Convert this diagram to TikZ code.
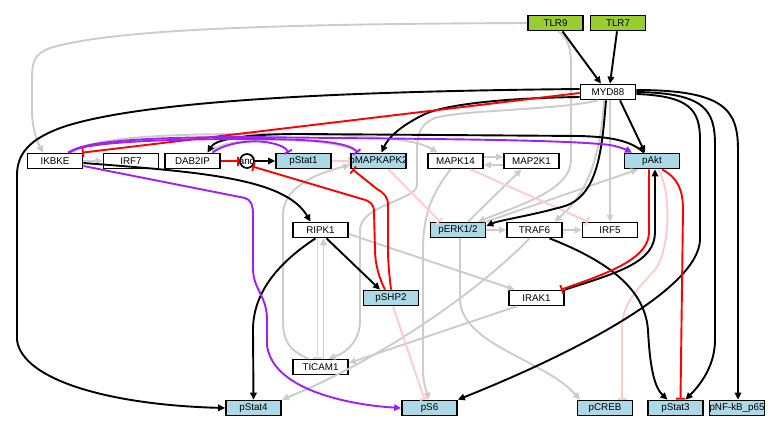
\documentclass[tikz,border=0pt]{standalone}
\usepackage{fontspec}
\setmainfont{Liberation Sans}
\usetikzlibrary{arrows.meta}
\definecolor{lgray}{RGB}{204,204,204}
\definecolor{lpink}{RGB}{255,204,204}
\definecolor{purp}{RGB}{160,32,240}
\definecolor{lblue}{RGB}{173,216,230}
\definecolor{ygreen}{RGB}{154,205,50}
\newcommand\nodetxt[1]{\makebox[0pt]{#1}}
\begin{document}
\begin{tikzpicture}[x=1pt,y=-1pt,
 nd/.style={draw=black,line width=1.7pt,minimum width=55pt,minimum height=15pt,inner sep=0pt,font=\fontsize{9.8}{10}\selectfont},
 wnode/.style={nd,fill=white},
 bnode/.style={nd,fill=lblue},
 gnode/.style={nd,fill=ygreen},
 edg/.style={line width=1.9pt},
 act/.style={edg,-{Triangle[length=7pt,width=6.5pt]}},
 inh/.style={edg,-{Bar[width=9pt]}},
 blk/.style={act,draw=black},
 gry/.style={act,draw=lgray},
 redt/.style={inh,draw=red},
 pinkt/.style={inh,draw=lpink},
 purpa/.style={act,draw=purp},
 purpt/.style={inh,draw=purp},
]
\useasboundingbox[fill=white] (0,0) rectangle (782,431);

% nodes
\node[gnode] (TLR9) at (555.5,23) {\nodetxt{TLR9}};
\node[gnode] (TLR7) at (618,23) {\nodetxt{TLR7}};
\node[wnode] (MYD88) at (608,92) {\nodetxt{MYD88}};
\node[wnode] (IKBKE) at (55,161) {\nodetxt{IKBKE}};
\node[wnode] (IRF7) at (131,161) {\nodetxt{IRF7}};
\node[wnode] (DAB2IP) at (192.5,161) {\nodetxt{DAB2IP}};
\node[circle,draw=black,line width=1.7pt,fill=white,minimum size=14pt,inner sep=0pt] (and) at (247,161) {};
\node[font=\fontsize{9.8}{10}\selectfont,inner sep=0pt] (andtxt) at (and) {and};
\node[bnode] (pStat1) at (303.5,161) {\nodetxt{pStat1}};
\node[bnode] (pMAPKAPK2) at (378.5,161) {\nodetxt{pMAPKAPK2}};
\node[wnode] (MAPK14) at (455.5,161) {\nodetxt{MAPK14}};
\node[wnode] (MAP2K1) at (531.5,161) {\nodetxt{MAP2K1}};
\node[bnode] (pAkt) at (652,161) {\nodetxt{pAkt}};
\node[wnode] (RIPK1) at (320.5,230) {\nodetxt{RIPK1}};
\node[bnode] (pERK) at (458,230) {\nodetxt{pERK1/2}};
\node[wnode] (TRAF6) at (534.5,230) {\nodetxt{TRAF6}};
\node[wnode] (IRF5) at (610,230) {\nodetxt{IRF5}};
\node[bnode] (pSHP2) at (391,298) {\nodetxt{pSHP2}};
\node[wnode] (IRAK1) at (536.5,298) {\nodetxt{IRAK1}};
\node[wnode] (TICAM1) at (320.5,367) {\nodetxt{TICAM1}};
\node[bnode] (pStat4) at (253.5,408) {\nodetxt{pStat4}};
\node[bnode] (pS6) at (429.5,408) {\nodetxt{pS6}};
\node[bnode] (pCREB) at (605,408) {\nodetxt{pCREB}};
\node[bnode] (pStat3) at (675.5,408) {\nodetxt{pStat3}};
\node[bnode] (pNF) at (737,408) {\nodetxt{pNF-kB\_p65}};

% gray edges
\draw[gry] (TLR9.west) .. controls (260,24) and (110,30) .. (50,48) .. controls (34,54) and (32,62) .. (32,80) -- (32,110) .. controls (32,130) and (38,143) .. ([xshift=-12pt]IKBKE.north);
\draw[gry] ([xshift=3pt]TLR9.south) .. controls (572,42) and (571,55) .. (571,75) -- (571,160) .. controls (571,190) and (520,205) .. ([xshift=20pt]pERK.north);
\draw[gry] (IKBKE.east) -- (IRF7.west);
\draw[gry] ([xshift=18pt]IKBKE.north) .. controls (88,139) and (150,134) .. (250,134) .. controls (360,134) and (415,138) .. ([xshift=-18pt]MAPK14.north);
\draw[gry] ([xshift=-18pt]pMAPKAPK2.north) .. controls (340,142) and (300,139) .. (262,140) .. controls (235,141) and (220,145) .. ([xshift=19pt]DAB2IP.north);
\draw[gry] ([xshift=-12pt]TICAM1.north) .. controls (288,350) and (283,340) .. (283,320) -- (283,215) .. controls (283,190) and (310,175) .. ([yshift=-4pt]pMAPKAPK2.west);
\draw[gry] ([xshift=-10pt]MYD88.south) .. controls (560,110) and (460,110) .. (435,118) .. controls (420,124) and (417,135) .. (417,150) -- (417,185) .. controls (417,200) and (360,205) .. (360,230) -- (360,320) .. controls (360,340) and (348,352) .. ([xshift=8pt]TICAM1.north);
\draw[gry] ([xshift=3pt]TICAM1.north) -- ([xshift=3pt]RIPK1.south);
\draw[gry] ([yshift=-4pt]RIPK1.east) -- ([xshift=-22pt]IRAK1.north);
\draw[gry] ([xshift=-20pt]IRAK1.south) -- ([yshift=4pt]TICAM1.east);
\draw[gry] ([xshift=-5pt]TRAF6.south) .. controls (480,290) and (380,360) .. (pStat4.north east);
\draw[gry] (pERK.east) -- (TRAF6.west);
\draw[gry] (TRAF6.east) -- (IRF5.west);
\draw[gry] ([xshift=2pt]pERK.south) -- (460,300) .. controls (462,345) and (545,360) .. ([xshift=-25pt]pCREB.north);
\draw[gry] ([xshift=-5pt]MAPK14.south) .. controls (435,190) and (423,210) .. (423,250) -- (423,370) .. controls (423,385) and (427,392) .. ([xshift=-1pt]pS6.north);
\draw[gry] ([xshift=10pt]pERK.north) -- ([xshift=-10pt]MAP2K1.south);
\draw[gry] (pERK.north east) -- ([xshift=-14pt]pAkt.south);
\draw[gry] ([yshift=4pt]MAPK14.east) -- ([yshift=4pt]MAP2K1.west);
\draw[gry] ([yshift=-4pt]MAP2K1.west) -- ([yshift=-4pt]MAPK14.east);
\draw[gry] ([xshift=2pt]MYD88.south) -- (IRF5.north);
\draw[gry] ([xshift=-4pt]MYD88.south) .. controls (600,170) and (580,200) .. ([xshift=20pt]TRAF6.north);

% pink edges
\draw[pinkt] (pStat1.east) -- (pMAPKAPK2.west);
\draw[pinkt] ([xshift=10pt]pMAPKAPK2.south) -- ([xshift=-18pt]pERK.north);
\draw[pinkt] ([xshift=15pt]MAPK14.south) -- ([xshift=-22pt]IRF5.north);
\draw[pinkt] ([xshift=-3pt]RIPK1.south) -- ([xshift=-3pt]TICAM1.north);
\draw[pinkt] ([xshift=2pt]pSHP2.south) -- ([xshift=-5pt]pS6.north);
\draw[pinkt] ([xshift=6pt]pAkt.south) .. controls (672,190) and (670,250) .. (655,270) .. controls (628,298) and (622,310) .. (622,330) -- ([xshift=17pt]pCREB.north);

% black edges
\draw[blk] ([xshift=7pt]TLR9.south) -- ([xshift=-7pt]MYD88.north);
\draw[blk] ([xshift=-1pt]TLR7.south) -- ([xshift=2pt]MYD88.north);
\draw[blk] ([yshift=3pt]MYD88.west) .. controls (380,91) and (150,98) .. (63,127) .. controls (35,137) and (17,150) .. (17,175) -- (17,340) .. controls (22,380) and (110,405) .. (pStat4.west);
\draw[blk] ([yshift=-5pt]MYD88.west) .. controls (500,98) and (445,105) .. (425,114) .. controls (400,126) and (388,138) .. ([xshift=3pt]pMAPKAPK2.north);
\draw[blk] ([xshift=12pt]MYD88.south) -- ([xshift=-7pt]pAkt.north);
\draw[blk] ([xshift=-2pt]MYD88.south) .. controls (602,150) and (598,195) .. (565,206) .. controls (530,216) and (500,220) .. ([yshift=4pt]pERK.east);
\draw[blk] ([yshift=-2pt]MYD88.east) .. controls (690,96) and (700,110) .. (700,140) -- (700,240) .. controls (698,290) and (570,355) .. (pS6.north east);
\draw[blk] (MYD88.east) .. controls (705,93) and (715,110) .. (715,145) -- (715,340) .. controls (715,370) and (695,390) .. ([xshift=10pt]pStat3.north);
\draw[blk] ([yshift=2pt]MYD88.east) .. controls (725,90) and (738,110) .. (738,150) -- ([xshift=1pt]pNF.north);
\draw[blk] ([xshift=15pt]TRAF6.south) .. controls (610,262) and (645,290) .. (648,330) .. controls (650,370) and (655,388) .. ([xshift=-8pt]pStat3.north);
\draw[blk] (IRAK1.north east) .. controls (620,272) and (655,262) .. (655,232) -- ([xshift=3pt]pAkt.south);
\draw[blk] ([xshift=-5pt]RIPK1.south) .. controls (275,265) and (253,295) .. (253,330) -- (pStat4.north);
\draw[blk] ([xshift=6pt]RIPK1.south) -- ([xshift=-11pt]pSHP2.north);
\draw[blk] ([yshift=-2pt]IKBKE.east) .. controls (200,172) and (285,178) .. ([xshift=-10pt]RIPK1.north);
\draw[blk] (and.east) -- (pStat1.west);
\draw[blk] ([xshift=-8pt]pAkt.north) .. controls (630,140) and (610,137) .. (580,136) -- (300,134) .. controls (240,134) and (215,140) .. ([xshift=15pt]DAB2IP.north);

% red edges
\draw[redt] ([yshift=-1pt]MYD88.west) -- ([xshift=27pt]IKBKE.north);
\draw[redt] (DAB2IP.east) -- (and.west);
\draw[redt] ([xshift=-6pt]pSHP2.north) .. controls (380,280) and (375,265) .. (375,250) -- (374,212) .. controls (374,204) and (370,201) .. (362,199) -- (and.south east);
\draw[redt] (pSHP2.north) .. controls (390,280) and (388,265) .. (388,250) -- (388,205) .. controls (388,197) and (384,193) .. (377,189) -- ([xshift=-26pt]pMAPKAPK2.south);
\draw[redt] ([xshift=10pt]pAkt.south) .. controls (678,178) and (683,190) .. (683,210) -- ([xshift=5pt]pStat3.north);
\draw[redt] ([xshift=-3pt]pAkt.south) -- (649,232) .. controls (649,258) and (612,272) .. ([xshift=-4pt]IRAK1.north east);

% purple edges
\draw[purpa] ([yshift=-5pt]IKBKE.east) -- (245,198) .. controls (251,200) and (253,205) .. (253,215) -- (253,268) .. controls (253,290) and (267,295) .. (267,320) -- (267,345) .. controls (272,390) and (350,405) .. (pS6.west);
\draw[purpa] ([xshift=15pt]IKBKE.north) .. controls (80,141) and (150,137) .. (250,137) .. controls (400,139) and (560,139) .. (610,145) .. controls (620,147) and (627,150) .. ([xshift=-20pt]pAkt.north);
\draw[purpt] ([xshift=20pt]DAB2IP.north) .. controls (225,143) and (250,140) .. (265,142) .. controls (280,144) and (286,148) .. ([xshift=-15pt]pStat1.north);
\draw[purpt] ([xshift=13pt]IKBKE.north) .. controls (80,143) and (150,139) .. (250,139) .. controls (320,139) and (350,143) .. ([xshift=-21pt]pMAPKAPK2.north);
\end{tikzpicture}
\end{document}
